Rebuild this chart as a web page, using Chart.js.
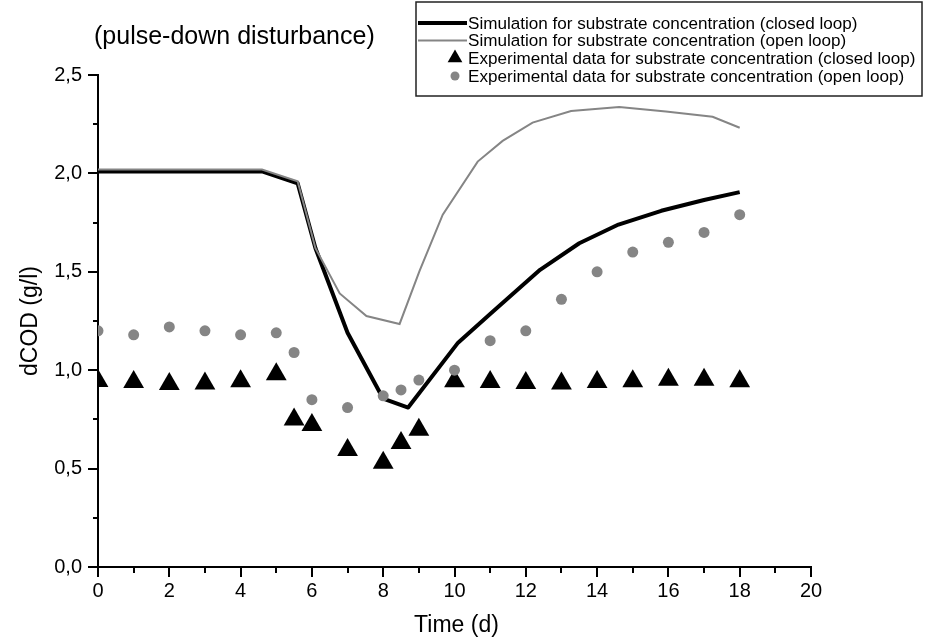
<!DOCTYPE html>
<html>
<head>
<meta charset="utf-8">
<script src="https://cdn.jsdelivr.net/npm/chart.js@4.4.1/dist/chart.umd.min.js"></script>
<style>
  html, body { margin: 0; padding: 0; background: #fff; }
  #wrap { width: 925px; height: 643px; }
</style>
</head>
<body>
<div id="wrap"><canvas id="c" width="925" height="643"></canvas></div>
<script>
// Simulated substrate concentration, closed loop (time in d, dCOD in g/l)
const simClosedTime = [0, 4.6, 5.6, 6.1, 7.0, 8.0, 8.7, 10.1, 11.0, 12.4, 13.5, 14.6, 15.8, 17.0, 18.0];
const simClosedCOD  = [2.01, 2.01, 1.95, 1.62, 1.19, 0.855, 0.81, 1.14, 1.285, 1.51, 1.645, 1.74, 1.81, 1.865, 1.905];

// Simulated substrate concentration, open loop
const simOpenTime = [0, 4.6, 5.6, 6.1, 6.78, 7.53, 8.46, 9.02, 9.67, 10.65, 11.35, 12.19, 13.27, 14.62, 15.93, 17.24, 18.0];
const simOpenCOD  = [2.02, 2.02, 1.96, 1.62, 1.39, 1.275, 1.235, 1.505, 1.79, 2.06, 2.165, 2.258, 2.317, 2.337, 2.314, 2.288, 2.232];

// Measured samples
const expTime      = [0, 1, 2, 3, 4, 5, 5.5, 6, 7, 8, 8.5, 9, 10, 11, 12, 13, 14, 15, 16, 17, 18];
const expClosedCOD = [0.945, 0.94, 0.93, 0.932, 0.944, 0.98, 0.75, 0.722, 0.595, 0.53, 0.63, 0.698, 0.944, 0.94, 0.935, 0.932, 0.94, 0.944, 0.952, 0.952, 0.944];
const expOpenCOD   = [1.20, 1.18, 1.22, 1.20, 1.18, 1.19, 1.09, 0.85, 0.81, 0.87, 0.90, 0.95, 1.00, 1.15, 1.20, 1.36, 1.50, 1.60, 1.65, 1.70, 1.79];

// Axis ranges and labels
const xMin = 0, xMax = 20, xMajor = 2, xMinor = 1;
const yMin = 0, yMax = 2.5, yMajor = 0.5, yMinor = 0.25;
const titleText = '(pulse-down disturbance)';
const xTitle = 'Time (d)';
const yTitle = 'dCOD (g/l)';
const seriesLabels = [
  'Simulation for substrate concentration (closed loop)',
  'Simulation for substrate concentration (open loop)',
  'Experimental data for substrate concentration (closed loop)',
  'Experimental data for substrate concentration (open loop)'
];

const FONT = '"Liberation Sans", Arial, Helvetica, sans-serif';
const GREY = '#858585';

const zip = (xs, ys) => xs.map((x, i) => ({ x: x, y: ys[i] }));
const commaDec = v => v.toFixed(1).replace('.', ',');
const isMult = (v, step) => Math.abs(v / step - Math.round(v / step)) < 1e-6;

// Tick marks (major/minor), titles and the framed legend
const decorations = {
  id: 'decorations',
  afterDraw(chart) {
    const ctx = chart.ctx;
    const xs = chart.scales.x, ys = chart.scales.y;
    const ca = chart.chartArea;
    ctx.save();
    ctx.strokeStyle = '#000';
    ctx.lineWidth = 2;
    ctx.beginPath();
    for (let v = xMin; v <= xMax + 1e-9; v += xMinor) {
      const px = Math.round(xs.getPixelForValue(v));
      const len = isMult(v, xMajor) ? 10 : 6;
      ctx.moveTo(px, ca.bottom);
      ctx.lineTo(px, ca.bottom + len);
    }
    for (let v = yMin; v <= yMax + 1e-9; v += yMinor) {
      const py = Math.round(ys.getPixelForValue(v));
      const len = isMult(v, yMajor) ? 10 : 5;
      ctx.moveTo(ca.left, py);
      ctx.lineTo(ca.left - len, py);
    }
    ctx.stroke();

    // chart title
    ctx.fillStyle = '#000';
    ctx.font = '25px ' + FONT;
    ctx.textAlign = 'left';
    ctx.textBaseline = 'alphabetic';
    ctx.fillText(titleText, 94, 44);

    // axis titles
    ctx.font = '23px ' + FONT;
    ctx.textAlign = 'center';
    ctx.fillText(xTitle, (ca.left + ca.right) / 2 + 2, 632);
    ctx.save();
    ctx.translate(31, (ca.top + ca.bottom) / 2);
    ctx.rotate(-Math.PI / 2);
    ctx.textBaseline = 'middle';
    ctx.fillText(yTitle, 0, 0);
    ctx.restore();

    // legend box
    const bx = 416, by = 2, bw = 506, bh = 94;
    ctx.fillStyle = '#fff';
    ctx.fillRect(bx, by, bw, bh);
    ctx.strokeStyle = '#222';
    ctx.lineWidth = 1.5;
    ctx.strokeRect(bx, by, bw, bh);
    const rowsY = [23, 40.5, 58, 76];
    ctx.font = '17.1px ' + FONT;
    ctx.textAlign = 'left';
    ctx.textBaseline = 'middle';
    chart.data.datasets.forEach((ds, i) => {
      const y = rowsY[i];
      if (ds.showLine) {
        ctx.strokeStyle = ds.borderColor;
        ctx.lineWidth = ds.borderWidth;
        ctx.beginPath();
        ctx.moveTo(418, y);
        ctx.lineTo(467, y);
        ctx.stroke();
      } else if (ds.pointStyle === 'triangle') {
        ctx.fillStyle = ds.backgroundColor;
        const r = 8.5;
        ctx.beginPath();
        ctx.moveTo(455, y - r);
        ctx.lineTo(455 + r * 0.866, y + r / 2);
        ctx.lineTo(455 - r * 0.866, y + r / 2);
        ctx.closePath();
        ctx.fill();
      } else {
        ctx.fillStyle = ds.backgroundColor;
        ctx.beginPath();
        ctx.arc(455, y, 4.5, 0, Math.PI * 2);
        ctx.fill();
      }
      ctx.fillStyle = '#000';
      ctx.fillText(ds.label, 468, y + 1);
    });
    ctx.restore();
  }
};

new Chart(document.getElementById('c'), {
  type: 'scatter',
  data: {
    datasets: [
      {
        label: seriesLabels[0],
        data: zip(simClosedTime, simClosedCOD),
        showLine: true,
        borderColor: '#000',
        borderWidth: 4,
        pointRadius: 0,
        pointHoverRadius: 0,
        borderJoinStyle: 'round',
        order: 4,
        clip: 0
      },
      {
        label: seriesLabels[1],
        data: zip(simOpenTime, simOpenCOD),
        showLine: true,
        borderColor: GREY,
        borderWidth: 2,
        pointRadius: 0,
        pointHoverRadius: 0,
        order: 3,
        clip: 0
      },
      {
        label: seriesLabels[2],
        data: zip(expTime, expClosedCOD),
        showLine: false,
        pointStyle: 'triangle',
        pointRadius: 12,
        backgroundColor: '#000',
        borderColor: '#000',
        borderWidth: 0,
        order: 2,
        clip: 0
      },
      {
        label: seriesLabels[3],
        data: zip(expTime, expOpenCOD),
        showLine: false,
        pointStyle: 'circle',
        pointRadius: 5.5,
        backgroundColor: GREY,
        borderColor: GREY,
        borderWidth: 0,
        order: 1,
        clip: 0
      }
    ]
  },
  options: {
    responsive: false,
    animation: false,
    events: [],
    layout: { padding: { top: 75, right: 114, bottom: 0, left: 0 } },
    plugins: { legend: { display: false }, title: { display: false }, tooltip: { enabled: false } },
    scales: {
      x: {
        type: 'linear',
        min: xMin, max: xMax,
        grid: { display: false, drawTicks: false, tickLength: 0 },
        border: { display: true, color: '#000', width: 2 },
        ticks: {
          stepSize: xMinor,
          autoSkip: false,
          maxRotation: 0,
          padding: 12,
          color: '#000',
          font: { family: FONT, size: 20 },
          callback: v => isMult(v, xMajor) ? String(v) : ''
        },
        afterFit: s => { s.height = 76; }
      },
      y: {
        type: 'linear',
        min: yMin, max: yMax,
        grid: { display: false, drawTicks: false, tickLength: 0 },
        border: { display: true, color: '#000', width: 2 },
        ticks: {
          stepSize: yMinor,
          autoSkip: false,
          padding: 16,
          color: '#000',
          font: { family: FONT, size: 20 },
          callback: v => isMult(v, yMajor) ? commaDec(v) : ''
        },
        afterFit: s => { s.width = 98; }
      }
    }
  },
  plugins: [decorations]
});
</script>
</body>
</html>
